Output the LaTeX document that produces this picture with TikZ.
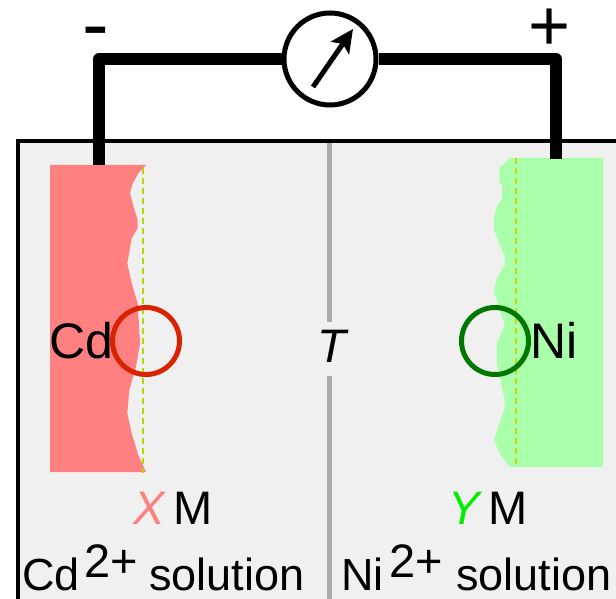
\documentclass[tikz,border=0pt]{standalone}
\usepackage{fontspec}
\setmainfont{Liberation Sans}
\usetikzlibrary{arrows.meta}
\definecolor{cellbg}{HTML}{F0F0F0}
\definecolor{cdfill}{HTML}{FF8080}
\definecolor{nifill}{HTML}{AAFFAA}
\definecolor{cdring}{HTML}{D92200}
\definecolor{niring}{HTML}{007700}
\definecolor{cddash}{HTML}{B5D900}
\definecolor{nidash}{HTML}{C8D800}
\definecolor{divider}{HTML}{AAAAAA}
\definecolor{xcol}{HTML}{FF8080}
\definecolor{ycol}{HTML}{00EE00}
\tikzset{
  x=1pt,y=-1pt,
  lbl/.style={inner sep=0pt,outer sep=0pt,anchor=base west,font=\fontsize{47}{50}\selectfont},
  big/.style={lbl,font=\fontsize{50}{52}\selectfont},
  sol/.style={lbl,font=\fontsize{45}{47}\selectfont},
  wire/.style={line width=12pt,line join=round,black},
  ring/.style={circle,draw,line width=5pt,minimum size=67pt,inner sep=0pt,fill=none},
  eldash/.style={line width=1.3pt,dash pattern=on 6pt off 4pt},
}
\begin{document}
\begin{tikzpicture}
\useasboundingbox (0,0) rectangle (616,599);
% cell
\fill[cellbg] (18,141) rectangle (616,599);
\draw[line width=4pt,line cap=rect] (18,599) -- (18,141) -- (616,141);
% divider
\coordinate (divtop) at (329.5,143);
\coordinate (divbot) at (329.5,599);
\draw[divider,line width=5pt] (divtop) -- (divbot);
\node[fill=cellbg,inner sep=0pt,minimum width=24pt,minimum height=54pt] (tbg) at (329.5,349) {};
\node[lbl,anchor=base] (T) at (332,362) {\itshape T};
% electrodes
\fill[cdfill] (50,165) -- (146,165)
  -- (138.3,173.3) -- (132.7,183.3) -- (130,193.3) -- (134,208.3) -- (137.7,220) -- (137.7,228.3)
  -- (131.7,238.3) -- (127.3,263.3) -- (131.7,283.3) -- (137.7,303.3) -- (140,343.3)
  -- (136,366.7) -- (129.3,390) -- (127.3,413.3) -- (131.7,433.3) -- (138.3,455) -- (146,472)
  -- (50,472) -- cycle;
\fill[nifill] (603,158) -- (510,158)
  -- (499.3,168.3) -- (499.3,183.3) -- (502,183.3) -- (502,198.3) -- (496.7,206.7) -- (494,218.3)
  -- (494,230) -- (504.7,256.7) -- (504.7,265) -- (496.7,278.3) -- (494,291.7) -- (504.7,325)
  -- (496.7,343.3) -- (496.7,363.3) -- (504.7,400) -- (504.7,408.3) -- (499.3,423.3) -- (494,440)
  -- (500.7,455) -- (510,467) -- (603,467) -- cycle;
\coordinate (cddashtop) at (143,168);
\coordinate (cddashbot) at (143,473);
\coordinate (nidashtop) at (516,158);
\coordinate (nidashbot) at (516,465);
\draw[cddash,eldash] (cddashtop) -- (cddashbot);
\draw[nidash,eldash] (nidashtop) -- (nidashbot);
% circuit
\node[circle,draw,line width=5pt,minimum size=92pt,inner sep=0pt,fill=white] (meter) at (330,59) {};
\coordinate (cdtop) at (99,165);
\coordinate (nitop) at (556,159);
\draw[wire] (cdtop) |- (meter.west);
\draw[wire] (nitop) |- (meter.east);
\coordinate (needlefoot) at (313,87);
\coordinate (needletip) at (353,29);
\draw[line width=5pt,{Butt Cap[]}-{Stealth[length=23pt,width=22pt,inset=5pt]}] (needlefoot) -- (needletip);
\node[lbl,anchor=base,font=\fontsize{80}{80}\selectfont] (minus) at (95.5,52) {-};
\node[lbl,anchor=base,font=\fontsize{72}{72}\selectfont] (plus) at (550,51) {+};
% rings
\node[ring,draw=cdring] (cdring) at (146,341) {};
\node[ring,draw=niring] (niring) at (495,341) {};
% labels
\node[big] (cd) at (49,358) {Cd};
\node[big] (ni) at (530,358) {Ni};
\node[lbl,text=xcol] (x) at (133,524) {\itshape X};
\node[lbl] (xm) at (173,524) {M};
\node[lbl,text=ycol] (y) at (448,524) {\itshape Y};
\node[lbl] (ym) at (488,524) {M};
\node[sol] (cdsol) at (22,590) {Cd};
\node[lbl] (cdsup) at (84,577) {2+};
\node[sol] (cdsolb) at (149,590) {solution};
\node[sol] (nisol) at (341,590) {Ni};
\node[lbl] (nisup) at (389,577) {2+};
\node[sol] (nisolb) at (456,590) {solution};
\end{tikzpicture}
\end{document}
